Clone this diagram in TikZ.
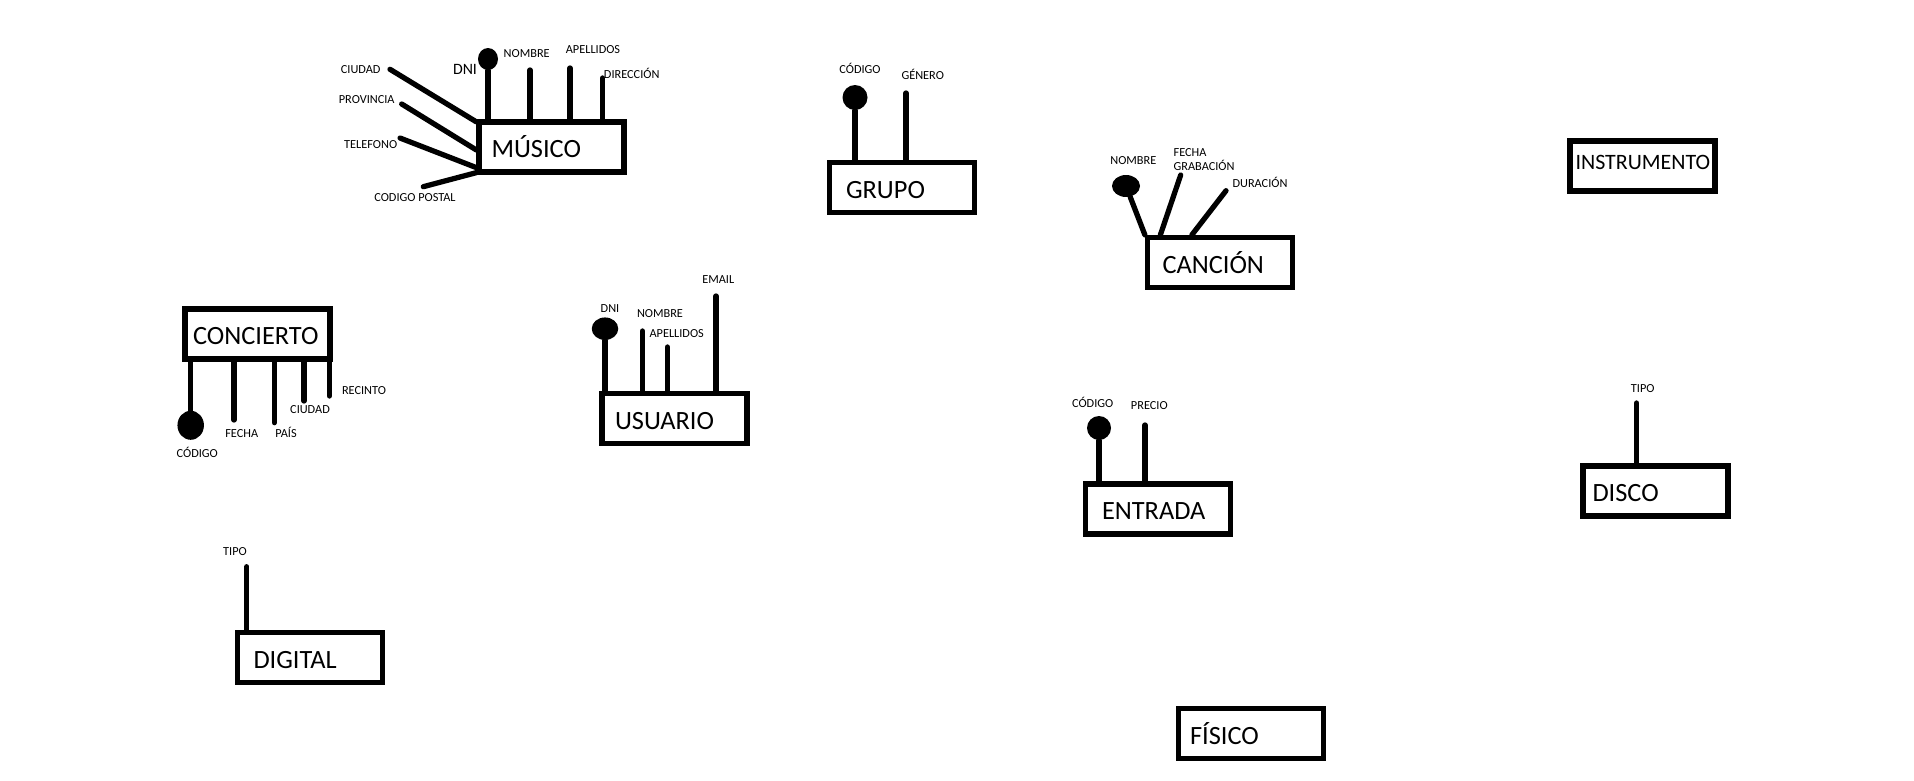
\documentclass[tikz,border=0pt]{standalone}
\usepackage{fontspec}
\setmainfont{Carlito}
\usetikzlibrary{shapes.geometric}
\newcommand{\entfont}{\fontsize{15}{18}\selectfont}
\newcommand{\attfont}{\fontsize{7}{8.2}\selectfont}

\begin{document}
\begin{tikzpicture}[x=0.02cm,y=-0.02cm,
  entity/.style={draw, line width=3pt, minimum height=1cm, inner xsep=0pt,
    text width=2.9cm, align=left, text height=12pt, text depth=0pt,
    font=\entfont, execute at begin node={\hspace*{#1}}},
  entity/.default=0.3cm,
  attr/.style={inner sep=0pt, font=\attfont, text height=4.5pt, text depth=0pt},
  link/.style={line width=3pt, line cap=round},
  key/.style={ellipse, fill, inner sep=0pt}]
\path[use as bounding box, fill=white] (0,0) rectangle (1914,781);

\node[entity=0.25cm] (musico) at (551.5,147) {MÚSICO};
\node[entity=0.33cm] (grupo) at (902,187.5) {GRUPO};
\node[entity=0.3cm] (cancion) at (1220,262.5) {CANCIÓN};
\node[entity=0.16cm] (concierto) at (257.5,334) {CONCIERTO};
\node[entity=0.26cm] (usuario) at (674.5,418.5) {USUARIO};
\node[entity=0.33cm] (entrada) at (1158,509) {ENTRADA};
\node[entity=0.11cm, font=\fontsize{12.5}{15}\selectfont, text height=8pt, text depth=3.5pt] (instrumento) at (1642.5,166) {INSTRUMENTO};
\node[entity=0.19cm] (disco) at (1655.5,491) {DISCO};
\node[entity=0.32cm] (digital) at (310,657.5) {DIGITAL};
\node[entity=0.23cm] (fisico) at (1251,733.5) {FÍSICO};

\node[key, minimum width=0.4cm, minimum height=0.44cm] (dniM) at (488,59) {};
\node[key, minimum size=0.5cm] (codG) at (855,97.5) {};
\node[key, minimum width=0.56cm, minimum height=0.44cm] (nomC) at (1126,186) {};
\node[key, minimum width=0.53cm, minimum height=0.58cm] (codCo) at (190.7,425.3) {};
\node[key, minimum width=0.53cm, minimum height=0.45cm] (dniU) at (605,328.7) {};
\node[key, minimum size=0.48cm] (codE) at (1099,428) {};

\coordinate (nomM) at (530,70);
\coordinate (apeM) at (570,68);
\coordinate (dirM) at (602.7,78);
\coordinate (ciuM) at (390,69.3);
\coordinate (proM) at (401.7,104);
\coordinate (telM) at (400,138);
\coordinate (cpM) at (423.3,186.7);
\coordinate (genG) at (906,93);
\coordinate (fecC) at (1180.7,175);
\coordinate (durC) at (1226,190.7);
\coordinate (fecCo) at (234,420);
\coordinate (paiCo) at (274.3,422.7);
\coordinate (ciuCo) at (304,401);
\coordinate (recCo) at (329.3,396);
\coordinate (nomU) at (642.3,331);
\coordinate (apeU) at (667.3,347);
\coordinate (emaU) at (716,296);
\coordinate (preE) at (1145,425);
\coordinate (tipD) at (1636.7,403);
\coordinate (tipDg) at (246.7,566.7);

\draw[link] (dniM) -- (dniM |- musico.north);
\draw[link] (nomM) -- (nomM |- musico.north);
\draw[link] (apeM) -- (apeM |- musico.north);
\draw[link] (dirM) -- (dirM |- musico.north);
\draw[link] (ciuM) -- ([yshift=-0.05cm]musico.north west);
\draw[link] (proM) -- ([yshift=-0.06cm]musico.west);
\draw[link] (telM) -- ([yshift=0.14cm]musico.south west);
\draw[link] (cpM) -- ([yshift=0.04cm]musico.south west);
\draw[link] (codG) -- (codG |- grupo.north);
\draw[link] (genG) -- (genG |- grupo.north);
\draw[link] (nomC) -- (cancion.north west);
\draw[link] (fecC) -- ([xshift=0.31cm]cancion.north west);
\draw[link] (durC) -- ([xshift=0.94cm]cancion.north west);
\draw[link] (codCo) -- (codCo |- concierto.south);
\draw[link] (fecCo) -- (fecCo |- concierto.south);
\draw[link] (paiCo) -- (paiCo |- concierto.south);
\draw[link] (ciuCo) -- (ciuCo |- concierto.south);
\draw[link] (recCo) -- (recCo |- concierto.south);
\draw[link] (dniU) -- (dniU |- usuario.north);
\draw[link] (nomU) -- (nomU |- usuario.north);
\draw[link] (apeU) -- (apeU |- usuario.north);
\draw[link] (emaU) -- (emaU |- usuario.north);
\draw[link] (codE) -- (codE |- entrada.north);
\draw[link] (preE) -- (preE |- entrada.north);
\draw[link] (tipD) -- (tipD |- disco.north);
\draw[link] (tipDg) -- (tipDg |- digital.north);

\node[attr, font=\fontsize{9}{10}\selectfont, text height=5.7pt] (lDniM) at (465,69) {DNI};
\node[attr] (lNomM) at (526.7,53.3) {NOMBRE};
\node[attr] (lApeM) at (593,50) {APELLIDOS};
\node[attr] (lDirM) at (631.7,75) {DIRECCIÓN};
\node[attr] (lCiuM) at (360.7,69.3) {CIUDAD};
\node[attr] (lProM) at (366.7,100) {PROVINCIA};
\node[attr] (lTelM) at (370.7,145) {TELEFONO};
\node[attr] (lCpM) at (415,198) {CODIGO POSTAL};
\node[attr] (lCodG) at (860,70) {CÓDIGO};
\node[attr] (lGenG) at (922.7,76) {GÉNERO};
\node[attr] (lNomC) at (1133.3,160.7) {NOMBRE};
\node[inner sep=0pt, font=\attfont, align=left, anchor=west] (lFecC) at (1173.3,159.5) {FECHA\\GRABACIÓN};
\node[attr] (lDurC) at (1260,183.3) {DURACIÓN};
\node[attr] (lCodCo) at (197.3,453.3) {CÓDIGO};
\node[attr] (lFecCo) at (241.7,433.3) {FECHA};
\node[attr] (lPaiCo) at (286,434) {PAÍS};
\node[attr] (lCiuCo) at (310,410) {CIUDAD};
\node[attr] (lRecCo) at (364,390.7) {RECINTO};
\node[attr] (lDniU) at (610,308.3) {DNI};
\node[attr] (lNomU) at (660,313.3) {NOMBRE};
\node[attr] (lApeU) at (676.7,333.3) {APELLIDOS};
\node[attr] (lEmaU) at (718.3,279.3) {EMAIL};
\node[attr] (lCodE) at (1092.7,404) {CÓDIGO};
\node[attr] (lPreE) at (1149.3,406) {PRECIO};
\node[attr] (lTipD) at (1642.7,389) {TIPO};
\node[attr] (lTipDg) at (235,551.7) {TIPO};
\end{tikzpicture}
\end{document}
